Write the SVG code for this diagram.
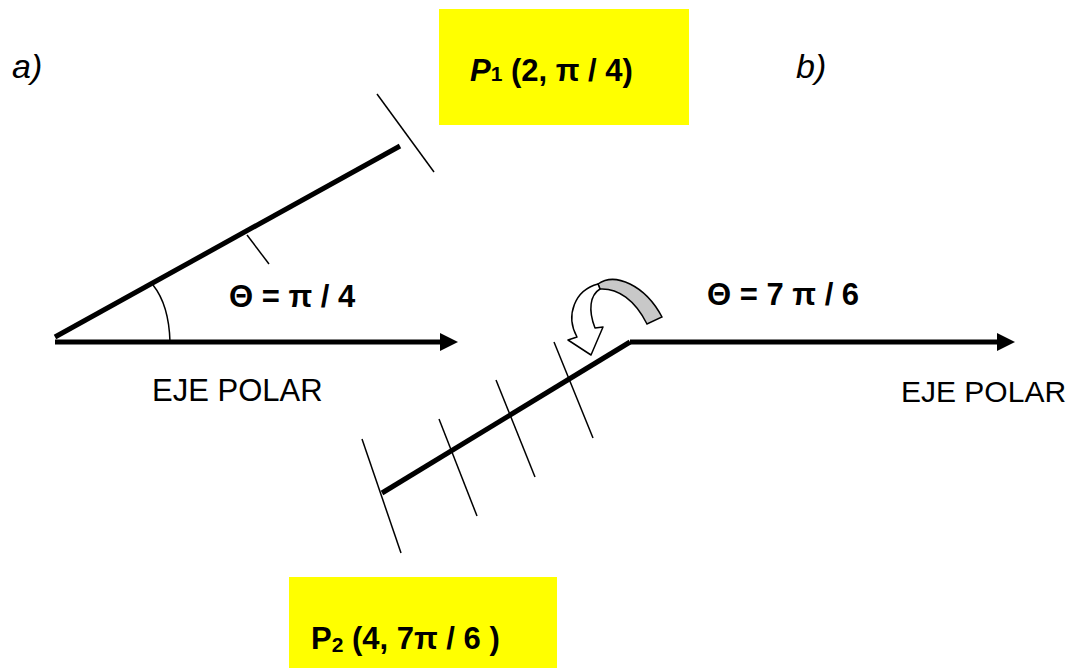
<svg xmlns="http://www.w3.org/2000/svg" width="1081" height="668" viewBox="0 0 1081 668">
<defs>
<style>
.t{font-family:"Liberation Sans",Arial,sans-serif;fill:#000}
.b{font-weight:bold}
.thick{stroke:#000;stroke-width:5;fill:none}
.tick{stroke:#000;stroke-width:1.5;fill:none}
.box{fill:#ffff00}
</style>
<marker id="ah" markerUnits="userSpaceOnUse" markerWidth="18" markerHeight="18" refX="0" refY="9" orient="auto" viewBox="0 0 18 18">
<path d="M0,0 L18,9 L0,18 Z" fill="#000"/>
</marker>
</defs>
<g id="label-a"><text class="t" x="12" y="78" font-size="34" font-style="italic">a)</text></g>
<g id="label-b"><text class="t" x="796" y="78" font-size="34" font-style="italic">b)</text></g>
<g id="P1">
<rect class="box" x="439" y="9" width="250" height="116"/>
<text class="t b" x="470" y="81" font-size="31"><tspan font-style="italic">P</tspan><tspan font-size="21">1</tspan> (2, π / 4)</text>
</g>
<g id="P2">
<rect class="box" x="289" y="577" width="268" height="91"/>
<text class="t b" x="311" y="649" font-size="31">P<tspan font-size="21" dy="3">2</tspan><tspan dy="-3"> (4, 7π / 6 )</tspan></text>
</g>
<g id="theta-a"><text class="t b" x="229" y="307" font-size="31">Θ = π / 4</text></g>
<g id="theta-b"><text class="t b" x="707" y="305" font-size="31">Θ = 7 π / 6</text></g>
<g id="eje-a"><text class="t" x="152" y="401" font-size="31">EJE POLAR</text></g>
<g id="eje-b"><text class="t" x="901" y="402" font-size="30">EJE POLAR</text></g>
<g id="connectors">
<line class="thick" x1="55" y1="342" x2="440" y2="342" marker-end="url(#ah)"/>
<line class="thick" x1="55" y1="337" x2="400" y2="146"/>
<line class="tick" x1="377" y1="94" x2="434" y2="172"/>
<line class="tick" x1="247" y1="235" x2="269" y2="264"/>
<path class="tick" d="M153,285 Q169,305 170,342"/>
<line class="thick" x1="630" y1="342" x2="997" y2="342" marker-end="url(#ah)"/>
<polyline class="thick" points="630,342 382,493"/>
<line class="tick" x1="362" y1="439" x2="401" y2="553"/>
<line class="tick" x1="439" y1="419" x2="477" y2="516"/>
<line class="tick" x1="496" y1="380" x2="535" y2="477"/>
<line class="tick" x1="554" y1="342" x2="593" y2="438"/>
<path d="M598,284 C615,272 645,285 662,317 L647,324 C635,300 618,288 600,289 Z" fill="#c8c8c8" stroke="#000" stroke-width="1.5"/>
<path d="M598,284 C575,290 565,315 577,337 L568,340 L591,355 L603,327 L595,328 C588,310 590,295 600,289 Z" fill="#fff" stroke="#000" stroke-width="1.5" stroke-linejoin="round"/>
</g>
</svg>
